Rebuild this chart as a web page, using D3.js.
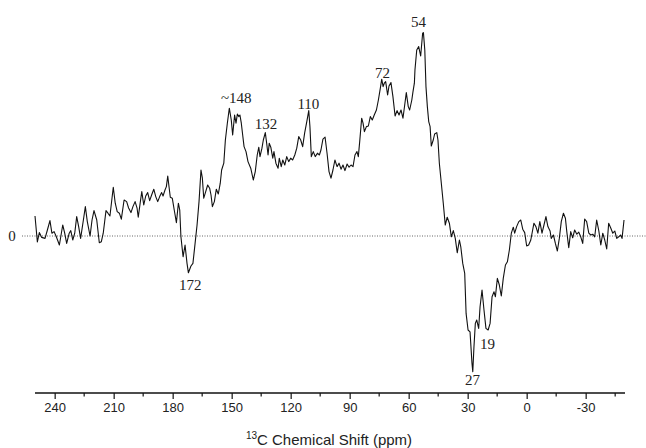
<!DOCTYPE html>
<html lang="en">
	<head>
		<meta charset="utf-8">
		<title>13C difference spectrum</title>
		<script type="text/javascript" src="https://cdn.jsdelivr.net/npm/d3@7"></script>
		<style type="text/css">
			html, body{
				margin: 0;
				padding: 0;
				background-color: #FFF;
			}
			svg{
				display: block;
			}
		</style>
	</head>
	<body>
		<div id="chart"></div>
		<script type="text/javascript">

			// chemical shift (ppm) and intensity (arbitrary units)
			var shiftPpm = [250, 248.8, 247.8, 246.6, 244.9, 243.7, 242.4, 241.4, 240.3, 239.3,
				237.6, 235.9, 234.9, 233.9, 232.6, 231.8, 230.8, 229.8, 228.8, 227.8,
				226.8, 225.4, 224.4, 223.4, 222, 221, 220, 218.6, 217.3, 216.3,
				215.3, 213.9, 212.9, 211.9, 210.2, 209.2, 208.2, 207.1, 206.1, 204.7,
				203.4, 202.4, 201.2, 200.2, 199.1, 198.1, 197.5, 196.5, 195.7, 194.7,
				193.7, 192.7, 191.7, 190.7, 189.6, 188.6, 187.6, 186.6, 185.6, 184.9,
				183.9, 183.2, 182.5, 181.9, 181.2, 180.2, 179.2, 178.1, 177.1, 176.4,
				175.8, 174.7, 173.7, 172.7, 172, 170.7, 169.7, 168.6, 167.6, 166.6,
				165.6, 164.9, 164.2, 163.2, 162.2, 161.2, 160.5, 159.8, 158.8, 157.8,
				156.8, 155.8, 155.1, 154, 153.2, 152.2, 151.2, 150.2, 149.5, 148.5,
				147.8, 147.1, 146.4, 145.8, 145.1, 144.4, 143.7, 142.7, 141.7, 140.3,
				139, 138, 137, 136.2, 135.6, 134.6, 133.9, 132.9, 132.2, 131.5,
				130.9, 130.1, 129.1, 128.5, 127.5, 126.4, 125.8, 124.8, 124, 123,
				122, 121, 120, 119, 117.9, 116.9, 115.9, 114.9, 113.9, 112.9,
				111.8, 110.8, 110.2, 109.5, 108.5, 107.5, 106.4, 105.4, 104.6, 103.6,
				102.5, 101.5, 100.5, 99.5, 98.5, 97.5, 96.4, 95.4, 94.4, 93.4,
				92.4, 91.3, 90.3, 89.3, 88.3, 87.3, 86.3, 85.6, 84.9, 83.9,
				83.2, 82.5, 81.5, 80.5, 79.5, 78.5, 77.5, 76.4, 75.4, 74.4,
				73.7, 73, 72.4, 71.7, 70.7, 70, 69, 68, 66.9, 65.9,
				64.9, 63.9, 62.9, 61.9, 61.2, 60.2, 59.5, 58.4, 57.8, 57.1,
				56.8, 55.9, 54.9, 53.9, 52.9, 52.5, 51.8, 51.2, 50.5, 49.8,
				49.1, 48.5, 47.5, 46.8, 45.7, 45.1, 44.4, 43.4, 42.4, 41.4,
				40.4, 39.3, 38.3, 37.3, 36.3, 35.3, 34.2, 33.5, 32.5, 31.5,
				30.8, 29.8, 28.8, 27.8, 27.4, 26.8, 26.1, 25.4, 24.4, 23.7,
				22.7, 21.7, 20.7, 19.6, 18.6, 17.6, 16.6, 15.9, 14.9, 13.9,
				12.9, 11.9, 10.8, 9.8, 8.8, 7.8, 6.8, 6.1, 5.1, 4,
				3, 2, 1, 0, -1, -2.1, -3.7, -4.7, -5.7, -6.7,
				-7.8, -8.8, -9.8, -10.8, -11.9, -12.5, -13.6, -14.6, -15.6, -16.6,
				-17.6, -18.7, -19.7, -20.4, -21.4, -22.4, -23.4, -24.4, -25.5, -26.5,
				-27.5, -28.5, -29.5, -30.5, -31.6, -32.6, -33.6, -34.6, -35.6, -36.7,
				-37.7, -38.7, -39.7, -40.7, -41.7, -42.8, -43.8, -44.8, -45.8, -46.8,
				-47.8, -48.5, -49.5];
			var intensity = [10, -3, 1.7, -0.7, -1.2, 3, 7.7, 1.4, 2.2, 0,
				-4.5, 5.5, 1.4, -3.7, 1.4, 2.7, -2, 1.4, 9.7, 4.7,
				-1.2, 8, 14.7, 7.2, 0, 8, 12.7, 8, -3.4, -2.9,
				1.4, 12.7, 11.4, 10, 24.4, 16.4, 12.2, 11.4, 8.4, 18,
				17.2, 14, 11.7, 14.7, 17.2, 13.9, 9.4, 16.7, 22.2, 15.5,
				20, 21.7, 17.7, 20.5, 23.4, 19.7, 17.2, 19.7, 21.7, 20,
				23, 24.7, 30, 25, 19.4, 18.9, 13, 6.7, 16.4, 13,
				-0.4, -10.4, -4.5, -13.7, -18.4, -15, -13.7, -3.7, 5.5, 17.2,
				33, 28.9, 18.9, 22.2, 25.5, 23.9, 20.5, 14.7, 17.2, 23.4,
				21, 26.4, 33, 36.4, 48, 56.4, 63.9, 58, 50.5, 60.5,
				56.4, 61, 59.7, 60.5, 56.4, 50.5, 44.7, 42.2, 37.2, 33.9,
				28, 32.2, 40.5, 44.4, 39.7, 43.9, 48, 51.7, 46.4, 40.5,
				46.4, 44.4, 38.9, 42.2, 36.4, 33.9, 38.9, 34.7, 38, 35.5,
				39.7, 37.2, 38.9, 38, 40.5, 43.9, 49.7, 48, 44.7, 51.4,
				57.2, 62.7, 54.7, 39.7, 42.2, 39.7, 41.4, 40.5, 43, 48.4,
				49.4, 41.4, 32.2, 28.9, 33, 38, 34.7, 36.4, 33.4, 35.5,
				32.7, 36, 34.4, 35.5, 34.7, 40.5, 42.2, 39.7, 47.2, 58.9,
				56.4, 52.2, 54.7, 55, 59.7, 58, 60.5, 63, 68, 73.9,
				78.4, 74.7, 76.4, 77.2, 70.5, 75, 76.7, 69.7, 60, 62.7,
				60.5, 63, 58.9, 66.4, 71.7, 64.7, 63, 68, 72.2, 76.4,
				83, 93, 94.7, 90, 101.4, 101.7, 93, 74.7, 64.7, 57.2,
				54.7, 45, 48, 51, 51.7, 48, 36.4, 26.4, 16.4, 5.5,
				9.4, 6.4, -0.4, 2.7, -1.2, -8.4, -2, -5.4, -13.7, -18.7,
				-38.7, -47, -47.9, -63.7, -67.9, -55.4, -43.7, -42, -46.2, -35.4,
				-27, -37, -46.2, -47, -43.7, -30.4, -27.9, -30.4, -21.2, -24.5,
				-30, -21.2, -14.5, -12.9, -7, 1.4, 4.4, 1.4, 4.7, 7.2,
				8, 3.4, 1.7, -5, -4.5, -2, 6.4, 4.7, 1.4, 7.2,
				1.4, 5.5, 9.7, 4.7, 2.5, -1.2, 0.5, -3.7, -7.5, -1.2,
				7.2, 11.4, 8.9, 2.2, -5.9, 2.2, -0.9, 3, 0.9, 1.9,
				-0.4, -3.7, 8.5, 7.2, 1.4, 0.5, 0.9, -0.4, 8, 2.5,
				-4.5, 1.4, -2, -6.5, 6.4, 3.9, 1.4, 2.5, -1.2, -0.4,
				0.5, -1.2, 8];

			// x axis ticks
			var majorTicks = [240, 210, 180, 150, 120, 90, 60, 30, 0, -30];
			var minorTicks = [225, 195, 165, 135, 105, 75, 45, 15, -15, -45];

			// peak annotations: text, shift, intensity of the label baseline
			var peakLabels = ["~148", "132", "110", "72", "54", "172", "19", "27"];
			var peakShift = [147.7, 132.5, 111, 73.3, 55, 171, 19.9, 27.5];
			var peakLevel = [66.5, 53.5, 63.5, 79, 104.5, -27, -56.5, -74.5];

			var w = 646;
			var h = 448;

			var xScale = d3.scaleLinear()
				.domain([250, -50])
				.range([35, 625]);
			var yScale = d3.scaleLinear()
				.domain([-70, 105])
				.range([376, 26]);
			var axisY = 393;

			var svg = d3.select("#chart")
				.append("svg")
				.attr("width", w)
				.attr("height", h);

			// dotted zero line
			svg.append("line")
				.attr("x1", 22)
				.attr("x2", w)
				.attr("y1", yScale(0))
				.attr("y2", yScale(0))
				.attr("stroke", "#666")
				.attr("stroke-width", 1)
				.attr("stroke-dasharray", "1,1.5");

			svg.append("text")
				.attr("x", 12)
				.attr("y", yScale(0))
				.attr("dy", "0.35em")
				.attr("text-anchor", "middle")
				.attr("font-family", "Liberation Serif, serif")
				.attr("font-size", "15px")
				.attr("fill", "#222")
				.text("0");

			// spectrum
			var points = shiftPpm.map(function(d, i) {
				return [d, intensity[i]];
			});
			var line = d3.line()
				.x(function(d) { return xScale(d[0]); })
				.y(function(d) { return yScale(d[1]); });
			svg.append("path")
				.datum(points)
				.attr("d", line)
				.attr("fill", "none")
				.attr("stroke", "#111")
				.attr("stroke-width", 1.1)
				.attr("stroke-linejoin", "round");

			// peak labels
			svg.selectAll("text.peak")
				.data(peakLabels)
				.enter()
				.append("text")
				.attr("class", "peak")
				.attr("x", function(d, i) { return xScale(peakShift[i]); })
				.attr("y", function(d, i) { return yScale(peakLevel[i]); })
				.attr("text-anchor", "middle")
				.attr("font-family", "Liberation Serif, serif")
				.attr("font-size", "15px")
				.attr("fill", "#222")
				.text(function(d) { return d; });

			// x axis
			var xAxis = d3.axisBottom(xScale)
				.tickValues(majorTicks)
				.tickFormat(function(d) { return String(d); })
				.tickSize(6)
				.tickPadding(4);
			var gx = svg.append("g")
				.attr("transform", "translate(0," + axisY + ")")
				.call(xAxis);
			gx.select(".domain")
				.attr("d", "M" + xScale(250) + ",0H" + xScale(-50))
				.attr("stroke", "#111")
				.attr("stroke-width", 1.5);
			gx.selectAll(".tick line")
				.attr("stroke", "#111")
				.attr("stroke-width", 1.2);
			gx.selectAll(".tick text")
				.attr("font-family", "Liberation Sans, Arial, sans-serif")
				.attr("font-size", "13px")
				.attr("fill", "#222");

			gx.selectAll("line.minor")
				.data(minorTicks)
				.enter()
				.append("line")
				.attr("class", "minor")
				.attr("x1", function(d) { return xScale(d); })
				.attr("x2", function(d) { return xScale(d); })
				.attr("y1", 0)
				.attr("y2", 3.5)
				.attr("stroke", "#111")
				.attr("stroke-width", 1.2);

			// axis title
			var title = svg.append("text")
				.attr("x", 329)
				.attr("y", 445)
				.attr("text-anchor", "middle")
				.attr("font-family", "Liberation Sans, Arial, sans-serif")
				.attr("font-size", "15px")
				.attr("fill", "#222");
			title.append("tspan")
				.attr("font-size", "10px")
				.attr("dy", "-6")
				.text("13");
			title.append("tspan")
				.attr("dy", "6")
				.text("C Chemical Shift (ppm)");
		</script>
	</body>
</html>
